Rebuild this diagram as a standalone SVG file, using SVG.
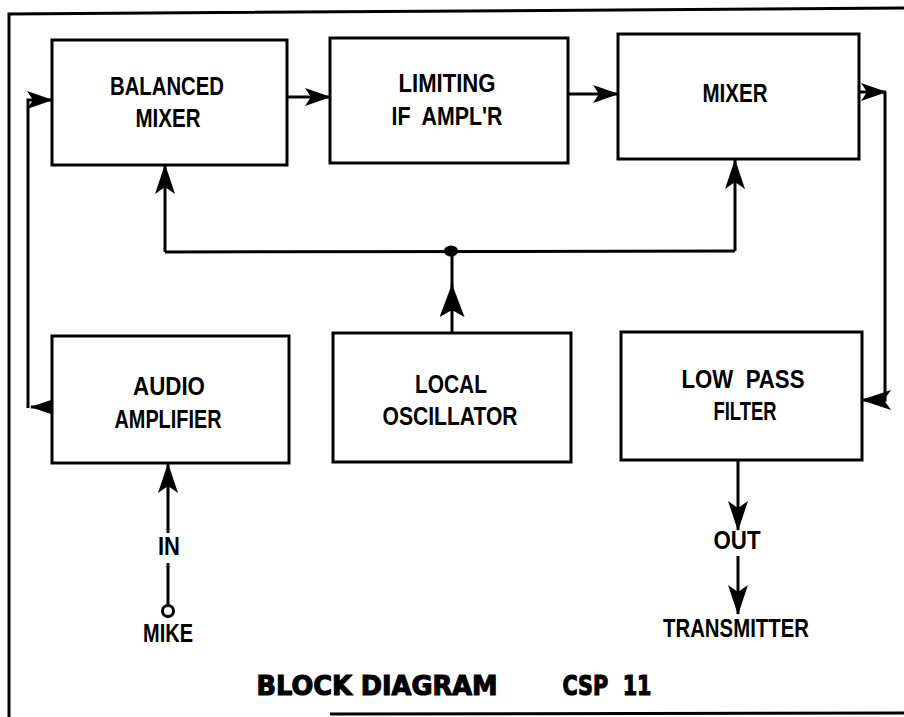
<svg xmlns="http://www.w3.org/2000/svg" width="904" height="717" viewBox="0 0 904 717">
<defs>
<style>
.box{fill:#fff;stroke:#000;stroke-width:3}
.ln{fill:none;stroke:#000;stroke-width:3}
.lb{font-family:"Liberation Sans",Arial,sans-serif;font-weight:bold;font-size:25px;fill:#000;text-anchor:middle}
.tt{font-family:"DejaVu Sans","Liberation Sans",sans-serif;font-weight:bold;font-size:27px;fill:#000;stroke:#000;stroke-width:1.2;text-anchor:middle}
</style>
<marker id="ah" viewBox="0 0 30 20" refX="29" refY="10" markerWidth="30" markerHeight="20" markerUnits="userSpaceOnUse" orient="auto">
<path d="M30,10 L0,0 L7,10 L0,20 Z" fill="#000"/>
</marker>
<marker id="ahL" viewBox="0 0 33 25" refX="32" refY="12.5" markerWidth="33" markerHeight="25" markerUnits="userSpaceOnUse" orient="auto">
<path d="M33,12.5 L0,0 L7,12.5 L0,25 Z" fill="#000"/>
</marker>
<marker id="ahS" viewBox="0 0 26 18" refX="25" refY="9" markerWidth="26" markerHeight="18" markerUnits="userSpaceOnUse" orient="auto">
<path d="M26,9 L0,0 L6,9 L0,18 Z" fill="#000"/>
</marker>
</defs>
<rect width="904" height="717" fill="#fff"/>
<g id="frame">
<path class="ln" d="M9,717 L9,14 L904,8"/>
<path class="ln" d="M330,714 L904,713"/>
</g>
<g id="connectors">
<line class="ln" x1="287" y1="97" x2="330" y2="97" marker-end="url(#ahS)"/>
<line class="ln" x1="568" y1="94" x2="618" y2="94" marker-end="url(#ahS)"/>
<line class="ln" x1="859" y1="92" x2="886" y2="92" marker-end="url(#ahS)"/>
<path class="ln" d="M885,92 L885,400 L862,400" marker-end="url(#ah)"/>
<line class="ln" x1="52" y1="407" x2="31" y2="407" marker-end="url(#ah)"/>
<path class="ln" d="M28,408 L28,100 L52,100" marker-end="url(#ahS)"/>
<line class="ln" x1="452" y1="333" x2="452" y2="285" marker-end="url(#ahL)"/>
<line class="ln" x1="452" y1="287" x2="452" y2="251"/>
<line class="ln" x1="165" y1="252" x2="735" y2="251"/>
<line class="ln" x1="165" y1="252" x2="165" y2="165" marker-end="url(#ah)"/>
<line class="ln" x1="735" y1="251" x2="735" y2="160" marker-end="url(#ah)"/>
<ellipse cx="451" cy="251" rx="7" ry="5.5" fill="#000"/>
<line class="ln" x1="168" y1="605" x2="168" y2="563"/>
<line class="ln" x1="168" y1="533" x2="168" y2="464" marker-end="url(#ah)"/>
<circle cx="168" cy="611" r="5.5" fill="#fff" stroke="#000" stroke-width="3"/>
<line class="ln" x1="738" y1="460" x2="738" y2="530" marker-end="url(#ah)"/>
<line class="ln" x1="738" y1="556" x2="738" y2="614" marker-end="url(#ah)"/>
</g>
<g id="balanced-mixer">
<rect class="box" x="52" y="40" width="235" height="125"/>
<text class="lb" x="167" y="95" textLength="114" lengthAdjust="spacingAndGlyphs">BALANCED</text>
<text class="lb" x="168" y="127" textLength="65" lengthAdjust="spacingAndGlyphs">MIXER</text>
</g>
<g id="limiting-if-amplr">
<rect class="box" x="330" y="38" width="238" height="125"/>
<text class="lb" x="447" y="92" textLength="97" lengthAdjust="spacingAndGlyphs">LIMITING</text>
<text class="lb" x="447" y="125" textLength="111" lengthAdjust="spacingAndGlyphs" xml:space="preserve">IF  AMPL'R</text>
</g>
<g id="mixer">
<rect class="box" x="618" y="34" width="241" height="125"/>
<text class="lb" x="735" y="102" textLength="65" lengthAdjust="spacingAndGlyphs">MIXER</text>
</g>
<g id="audio-amplifier">
<rect class="box" x="52" y="336" width="237" height="127"/>
<text class="lb" x="169" y="395" textLength="72" lengthAdjust="spacingAndGlyphs">AUDIO</text>
<text class="lb" x="168" y="428" textLength="107" lengthAdjust="spacingAndGlyphs">AMPLIFIER</text>
</g>
<g id="local-oscillator">
<rect class="box" x="333" y="333" width="238" height="129"/>
<text class="lb" x="451" y="393" textLength="72" lengthAdjust="spacingAndGlyphs">LOCAL</text>
<text class="lb" x="450" y="425" textLength="135" lengthAdjust="spacingAndGlyphs">OSCILLATOR</text>
</g>
<g id="low-pass-filter">
<rect class="box" x="621" y="332" width="241" height="128"/>
<text class="lb" x="743" y="388" textLength="123" lengthAdjust="spacingAndGlyphs" xml:space="preserve">LOW  PASS</text>
<text class="lb" x="745" y="420" textLength="63" lengthAdjust="spacingAndGlyphs">FILTER</text>
</g>
<g id="labels">
<text class="lb" x="169" y="555" textLength="22" lengthAdjust="spacingAndGlyphs">IN</text>
<text class="lb" x="168" y="642" textLength="50" lengthAdjust="spacingAndGlyphs">MIKE</text>
<text class="lb" x="737" y="549" textLength="47" lengthAdjust="spacingAndGlyphs">OUT</text>
<text class="lb" x="736" y="637" textLength="146" lengthAdjust="spacingAndGlyphs">TRANSMITTER</text>
</g>
<g id="title">
<text class="tt" x="377" y="695" textLength="241" lengthAdjust="spacingAndGlyphs">BLOCK DIAGRAM</text>
<text class="tt" x="607" y="695" textLength="89" lengthAdjust="spacingAndGlyphs" xml:space="preserve">CSP  11</text>
</g>
</svg>
